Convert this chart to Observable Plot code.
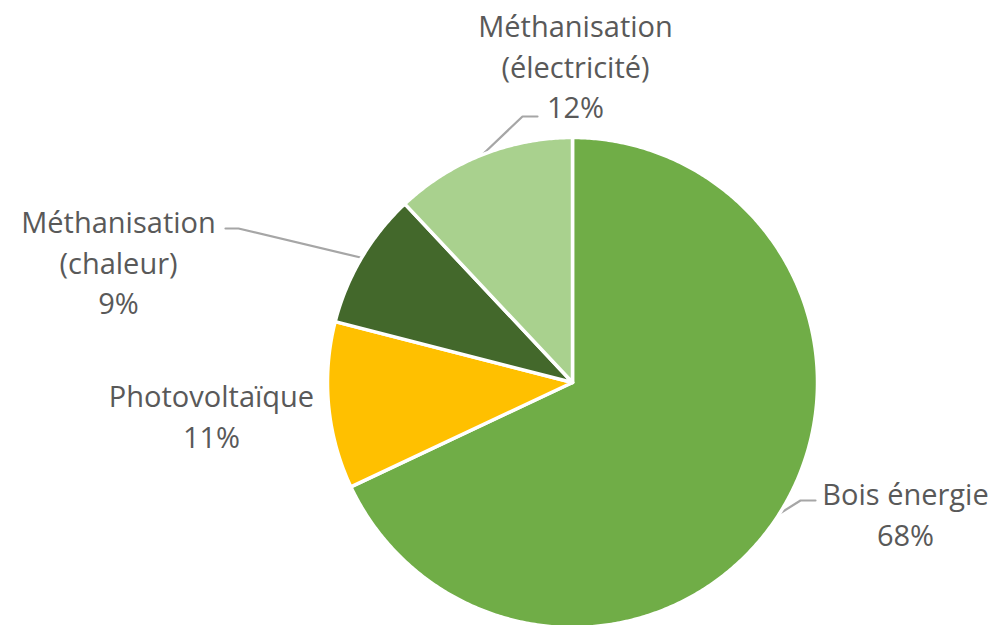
<!DOCTYPE html>
<html>
<head>
<meta charset="utf-8">
<script src="https://cdn.jsdelivr.net/npm/d3@7"></script>
<script src="https://cdn.jsdelivr.net/npm/@observablehq/plot@0.6"></script>
<style>
  html, body { margin: 0; padding: 0; background: #fff; }
</style>
</head>
<body>
<div id="chart"></div>
<script>
// ---- Data ----
const categories = ["Bois énergie", "Photovoltaïque", "Méthanisation (chaleur)", "Méthanisation (électricité)"];
const values = [68, 11, 9, 12];
const labelTexts = ["Bois énergie\n68%", "Photovoltaïque\n11%", "Méthanisation\n(chaleur)\n9%", "Méthanisation\n(électricité)\n12%"];
const colors = ["#70AD47", "#FFC000", "#43682B", "#A9D18E"];

// ---- Layout (pixels) ----
const W = 1006, H = 625;
const CX = 572, CY = 382, R = 245;
// label block centre offsets from pie centre, and leader elbows/ends, in pixels
const labelLayout = [
  {dx: 333, dy: 130, elbow: [800, 500], end: [815, 500], leader: true},
  {dx: -361, dy: 32, leader: false},
  {dx: -454, dy: -122, elbow: [238, 228], end: [225, 228], leader: true},
  {dx: 3, dy: -318, elbow: [522, 116], end: [537, 116], leader: true}
];

// data units: unit circle = pie radius
const toX = px => (px - CX) / R;
const toY = py => (CY - py) / R;

const total = d3.sum(values);
let cum = 0;
const slices = categories.map((c, i) => {
  const a0 = cum / total * 2 * Math.PI;
  cum += values[i];
  const a1 = cum / total * 2 * Math.PI;
  return {name: c, value: values[i], color: colors[i], a0, a1, mid: (a0 + a1) / 2, i};
});

// polygon points (angle clockwise from 12 o'clock)
const polyPts = [];
for (const s of slices) {
  polyPts.push({name: s.name, color: s.color, x: 0, y: 0});
  const n = Math.max(4, Math.ceil((s.a1 - s.a0) / (Math.PI / 360)));
  for (let k = 0; k <= n; k++) {
    const a = s.a0 + (s.a1 - s.a0) * k / n;
    polyPts.push({name: s.name, color: s.color, x: Math.sin(a), y: Math.cos(a)});
  }
  polyPts.push({name: s.name, color: s.color, x: 0, y: 0});
}

const leaderPts = [];
slices.forEach((s, i) => {
  const L = labelLayout[i];
  if (!L.leader) return;
  leaderPts.push({name: s.name, x: Math.sin(s.mid), y: Math.cos(s.mid)});
  leaderPts.push({name: s.name, x: toX(L.elbow[0]), y: toY(L.elbow[1])});
  leaderPts.push({name: s.name, x: toX(L.end[0]), y: toY(L.end[1])});
});

const labels = slices.map((s, i) => ({
  text: labelTexts[i],
  x: labelLayout[i].dx / R,
  y: -labelLayout[i].dy / R
}));

const chart = Plot.plot({
  width: W,
  height: H,
  margin: 0,
  x: {domain: [toX(0), toX(W)], axis: null},
  y: {domain: [toY(H), toY(0)], axis: null},
  style: {fontFamily: "'Open Sans', sans-serif", background: "#fff"},
  marks: [
    Plot.line(leaderPts, {x: "x", y: "y", z: "name", stroke: "#A6A6A6", strokeWidth: 2.2, curve: "linear"}),
    Plot.line(polyPts, {x: "x", y: "y", z: "name", fill: "color", stroke: "#ffffff", strokeWidth: 3.5, strokeLinejoin: "round", curve: "linear"}),
    Plot.text(labels, {x: "x", y: "y", text: "text", fontSize: 29, lineHeight: 1.4, fill: "#595959", textAnchor: "middle", lineAnchor: "middle"})
  ]
});
document.getElementById("chart").appendChild(chart);
</script>
</body>
</html>
